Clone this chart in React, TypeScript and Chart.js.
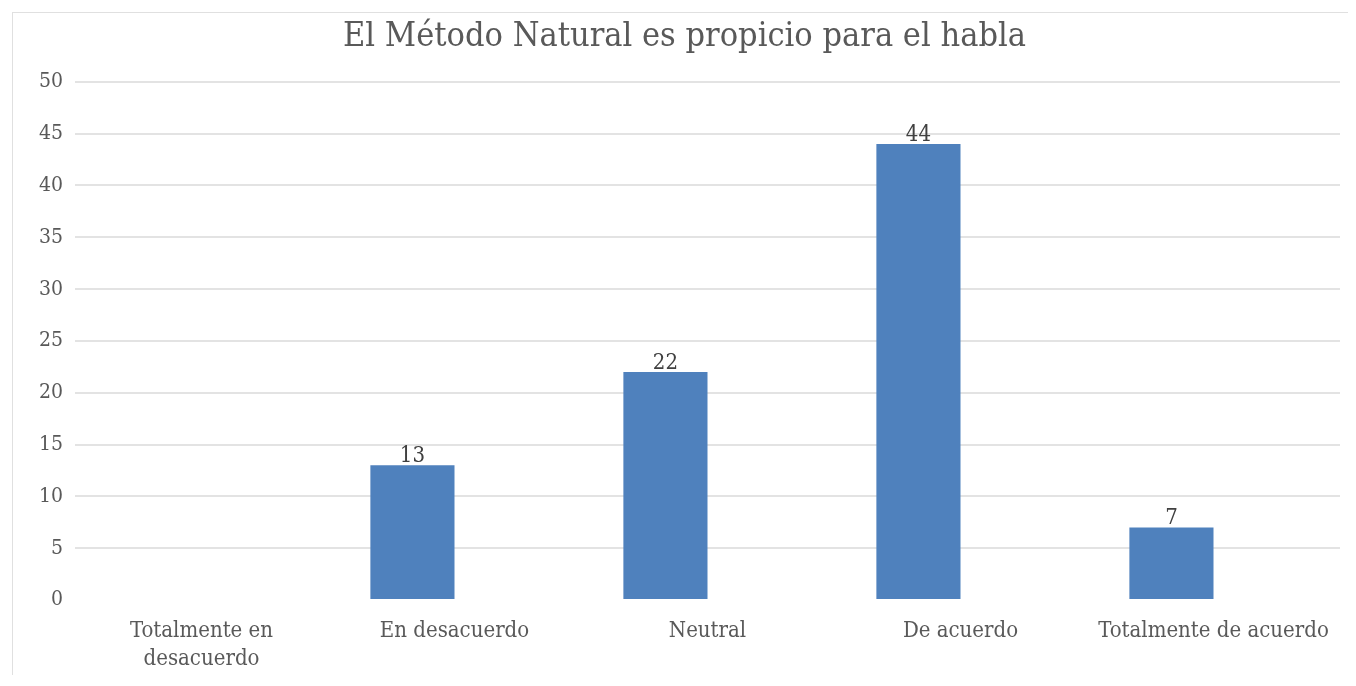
import React, { useEffect, useRef } from "react";
import { Chart, registerables } from "chart.js";

Chart.register(...registerables);

const titleText = "El Método Natural es propicio para el habla";
const categories: (string | string[])[] = [
  ["Totalmente en", "desacuerdo"],
  "En desacuerdo",
  "Neutral",
  "De acuerdo",
  "Totalmente de acuerdo",
];
const responses: (number | null)[] = [0, 13, 22, 44, 7];
const emptySeries: (number | null)[] = [null, null, null, null, null];
const yTicks: number[] = [0, 5, 10, 15, 20, 25, 30, 35, 40, 45, 50];

const FONT = "'DejaVu Serif Condensed', 'DejaVu Serif', 'Liberation Serif', serif";

const valueLabels = {
  id: "valueLabels",
  afterDatasetsDraw(chart: any) {
    const ctx = chart.ctx;
    const meta = chart.getDatasetMeta(0);
    ctx.save();
    ctx.font = `22px ${FONT}`;
    ctx.fillStyle = "#404040";
    ctx.textAlign = "center";
    ctx.textBaseline = "alphabetic";
    meta.data.forEach((bar: any, i: number) => {
      const v = responses[i];
      if (v === null || v === 0) return;
      ctx.fillText(String(v), bar.x, bar.y - 3);
    });
    ctx.restore();
  },
};

export default function App() {
  const ref = useRef<HTMLCanvasElement | null>(null);
  useEffect(() => {
    if (!ref.current) return;
    const chart = new Chart(ref.current, {
      type: "bar",
      data: {
        labels: categories,
        datasets: [
          {
            label: "Respuestas",
            data: responses,
            backgroundColor: "#4F81BD",
            borderWidth: 0,
            barPercentage: 1,
            categoryPercentage: 0.665,
          },
          {
            label: "",
            data: emptySeries,
            backgroundColor: "#4F81BD",
            barPercentage: 1,
            categoryPercentage: 0.665,
          },
        ],
      },
      options: {
        responsive: false,
        animation: false,
        layout: { padding: { left: 0, right: 0, top: 0, bottom: 0 } },
        plugins: {
          legend: { display: false },
          tooltip: { enabled: false },
          title: {
            display: true,
            text: titleText,
            color: "#595959",
            font: { family: FONT, size: 34, weight: "normal", lineHeight: 1.2 },
            padding: { top: 4, bottom: 24 },
          },
        },
        scales: {
          x: {
            grid: { display: false, drawTicks: false },
            border: { display: false },
            ticks: {
              color: "#595959",
              font: { family: FONT, size: 22, lineHeight: 1.25 },
              padding: 18,
              maxRotation: 0,
              autoSkip: false,
            },
            afterFit(scale: any) {
              scale.height = 73;
            },
          },
          y: {
            min: 0,
            max: 50,
            afterBuildTicks(scale: any) {
              scale.ticks = yTicks.map((v) => ({ value: v }));
            },
            grid: {
              drawTicks: false,
              color: (c: any) => (c.tick && c.tick.value === 0 ? "rgba(0,0,0,0)" : "#e3e3e3"),
              lineWidth: 2,
            },
            border: { display: false },
            ticks: {
              color: "#595959",
              font: { family: FONT, size: 21 },
              padding: 12,
            },
            afterFit(scale: any) {
              scale.width = 62;
            },
          },
          yRight: {
            position: "right",
            display: true,
            min: 0,
            max: 50,
            grid: { display: false, drawTicks: false },
            border: { display: false },
            ticks: { display: false },
            afterFit(scale: any) {
              scale.width = 16;
            },
          },
        },
      },
      plugins: [valueLabels],
    });
    return () => chart.destroy();
  }, []);
  return (
    <div
      style={{
        marginLeft: 4,
        marginTop: 4,
        width: 1343,
        height: 662,
        borderLeft: "1px solid #e0e0e0",
        borderTop: "1px solid #e0e0e0",
        background: "#fff",
      }}
    >
      <canvas ref={ref} width={1343} height={660} style={{ display: "block" }} />
    </div>
  );
}
